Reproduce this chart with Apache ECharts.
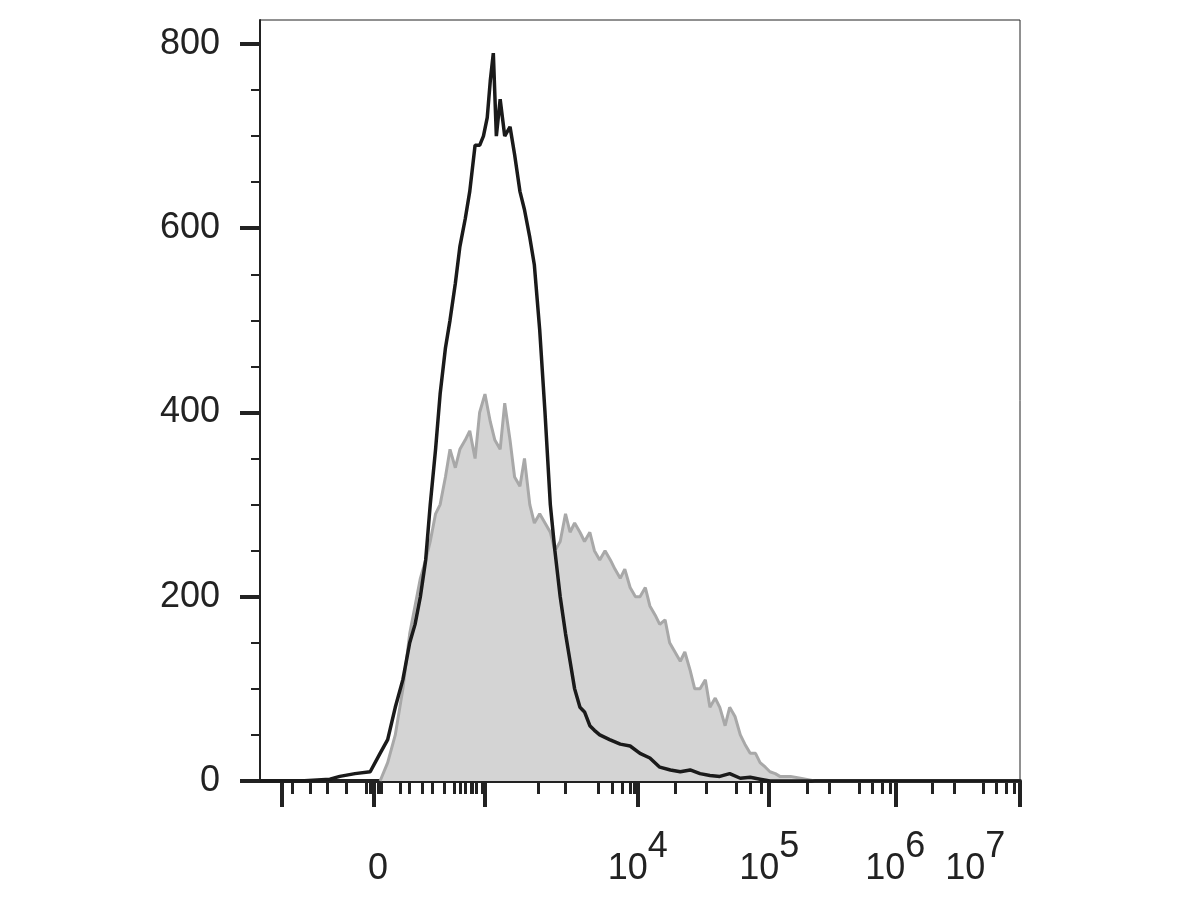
<!DOCTYPE html>
<html><head><meta charset="utf-8">
<script src="https://cdn.jsdelivr.net/npm/echarts@6/dist/echarts.min.js"></script>
<style>html,body{margin:0;background:#fff}#c{width:1200px;height:900px}</style>
</head><body><div id="c"></div>
<script>
// x in channel units (0..1000 across the plot)
const blackX = [0,53,92,105,125,145,158,168,178,188,197,204,211,218,224,231,237,244,250,257,263,270,276,283,289,294,299,303,307,311,316,322,329,335,342,348,355,361,368,375,382,388,395,402,408,414,421,427,434,440,447,460,474,487,500,513,526,540,553,566,579,592,605,618,632,645,658,671,1000];
const blackY = [0,0,2,5,8,10,30,45,80,110,150,170,200,240,300,360,420,470,500,540,580,610,640,690,690,700,720,760,790,700,740,700,710,680,640,620,590,560,490,400,300,250,200,160,130,100,80,75,60,55,50,45,40,38,30,25,15,12,10,12,8,6,5,8,3,4,2,0,0];
const grayX = [158,168,178,188,197,204,211,218,224,231,237,244,250,257,263,270,276,283,289,296,303,309,316,322,329,335,342,348,355,361,368,375,382,388,395,402,408,414,421,427,434,440,447,454,461,467,474,480,487,494,500,507,513,520,526,533,539,546,553,559,566,572,579,586,592,599,605,612,618,625,632,638,645,652,658,665,671,678,684,698,711,730,1000];
const grayY = [0,20,50,100,160,190,220,240,260,290,300,330,360,340,360,370,380,350,400,420,390,370,360,410,370,330,320,350,300,280,290,280,270,250,260,290,270,280,270,260,270,250,240,250,240,230,220,230,210,200,200,210,190,180,170,175,150,140,130,140,120,100,100,110,80,90,80,60,80,70,50,40,30,30,20,15,10,8,5,5,3,0,0];
const majorTicks = [29,150,296,497,670,836,1000];
const minorTicks = [42,66,89,113,184,213,243,263,278,293,
  197,213,226,242,256,270,279,285,
  366,401,445,463,476,487,493,
  547,587,627,645,660,
  720,749,788,805,819,829,
  885,914,951,969,982,992,
  140,145,155,160];
const labelPos = [162,497,670,836,941];
const labelText = {162:'0{s| }',497:'10{s|4}',670:'10{s|5}',836:'10{s|6}',941:'10{s|7}'};
const yTicks = [0,200,400,600,800];

const chart = echarts.init(document.getElementById('c'));
const font = 'Arial, Liberation Sans, sans-serif';
const xBase = {type:'value',min:0,max:1000,position:'bottom',splitLine:{show:false},axisLine:{show:false}};
chart.setOption({
  animation:false,
  grid:{left:260,right:180,top:20,bottom:119,show:true,borderColor:'#222',borderWidth:1,outerBoundsMode:'none',containLabel:false},
  xAxis:[
    Object.assign({},xBase,{axisLine:{show:true,lineStyle:{color:'#222',width:4}},
      axisTick:{show:true,customValues:majorTicks,length:26,lineStyle:{color:'#222',width:4}},
      axisLabel:{customValues:labelPos,margin:48,color:'#222',fontSize:36,fontFamily:font,
        formatter:v=>labelText[v]||'',rich:{s:{fontSize:36,fontFamily:font,color:'#222',padding:[0,0,44,0]}}}}),
    Object.assign({},xBase,{axisTick:{show:true,customValues:minorTicks,length:13,lineStyle:{color:'#222',width:3}},axisLabel:{show:false}})
  ],
  yAxis:{type:'value',min:0,max:826,interval:200,splitLine:{show:false},
    axisLine:{show:true,lineStyle:{color:'#222',width:2}},
    axisTick:{show:true,customValues:yTicks,length:20,lineStyle:{color:'#222',width:4}},
    minorTick:{show:true,splitNumber:4,length:9,lineStyle:{color:'#222',width:2}},
    axisLabel:{customValues:yTicks,color:'#222',fontSize:36,fontFamily:font,margin:40,padding:[20,0,0,0]}},
  series:[
    {type:'line',data:grayX.map((x,i)=>[x,grayY[i]]),symbol:'none',z:2,
      lineStyle:{color:'#a8a8a8',width:3},areaStyle:{color:'#d4d4d4',opacity:1}},
    {type:'line',data:blackX.map((x,i)=>[x,blackY[i]]),symbol:'none',z:3,
      lineStyle:{color:'#1a1a1a',width:3.5}}
  ]
});
</script></body></html>
